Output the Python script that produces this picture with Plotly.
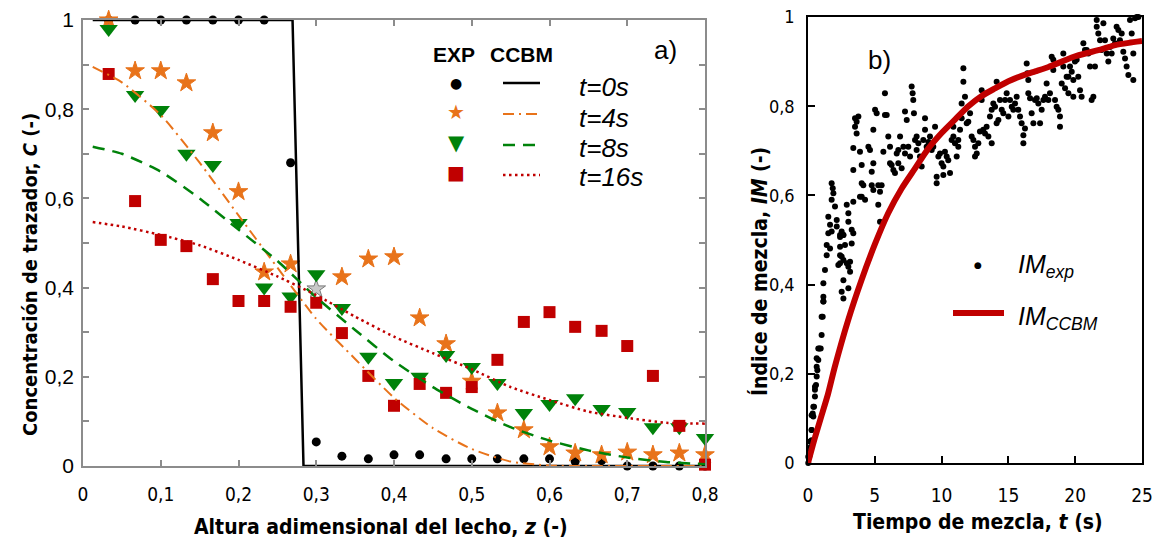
import plotly.graph_objects as go

# ---------------- data: panel a) ----------------
z_exp = [0.033, 0.067, 0.1, 0.133, 0.167, 0.2, 0.233, 0.267, 0.3, 0.333, 0.367, 0.4,
         0.433, 0.467, 0.5, 0.533, 0.567, 0.6, 0.633, 0.667, 0.7, 0.733, 0.767, 0.8]
c_exp_t0 = [1, 1, 1, 1, 1, 1, 1, 0.68, 0.054, 0.022, 0.016, 0.025,
            0.025, 0.016, 0.016, 0.016, 0.016, 0.016, 0.01, 0.012, 0, 0, 0, 0]
c_exp_t4 = [1.0, 0.886, 0.886, 0.859, 0.747, 0.615, 0.435, 0.453, 0.397, 0.424, 0.464, 0.469,
            0.332, 0.274, 0.19, 0.119, 0.081, 0.043, 0.029, 0.025, 0.031, 0.025, 0.029, 0.025]
c_exp_t8 = [0.98, 0.832, 0.798, 0.70, 0.675, 0.545, 0.40, 0.38, 0.43, 0.354, 0.245, 0.186,
            0.20, 0.249, 0.222, 0.186, 0.119, 0.139, 0.152, 0.128, 0.121, 0.087, 0.087, 0.063]
c_exp_t16 = [0.879, 0.594, 0.507, 0.493, 0.419, 0.370, 0.370, 0.357, 0.366, 0.298, 0.202, 0.135,
             0.184, 0.164, 0.177, 0.238, 0.323, 0.345, 0.312, 0.303, 0.269, 0.202, 0.090, 0.003]

z_step = [0.0125, 0.2695, 0.2836, 0.8]
c_step = [1, 1, 0, 0]
z_model = [0.0125, 0.05, 0.1, 0.15, 0.2, 0.25, 0.3, 0.35, 0.4, 0.45, 0.5, 0.55,
           0.6, 0.65, 0.7, 0.75, 0.8]
c_mod_t4 = [0.895, 0.86, 0.787, 0.68, 0.562, 0.445, 0.33, 0.24, 0.153, 0.085, 0.038, 0.01,
            0.001, 0, 0, 0, 0]
c_mod_t8 = [0.716, 0.70, 0.66, 0.60, 0.53, 0.46, 0.378, 0.305, 0.235, 0.177, 0.128, 0.087,
            0.057, 0.035, 0.019, 0.009, 0.004]
c_mod_t16 = [0.547, 0.537, 0.518, 0.495, 0.462, 0.425, 0.383, 0.335, 0.29, 0.253, 0.217, 0.177,
             0.148, 0.122, 0.108, 0.097, 0.095]

series_labels = ["t=0s", "t=4s", "t=8s", "t=16s"]

# ---------------- data: panel b) ----------------
t_model = [0, 0.5, 1, 1.5, 2, 3, 4, 5, 6, 7, 8, 9, 10, 11, 12, 13, 14, 15, 16, 17, 18,
           19, 20, 21, 22, 23, 24, 25]
im_model = [0, 0.055, 0.105, 0.155, 0.215, 0.32, 0.41, 0.49, 0.56, 0.615, 0.66, 0.705,
            0.74, 0.77, 0.8, 0.823, 0.84, 0.856, 0.868, 0.878, 0.888, 0.9, 0.912, 0.92,
            0.928, 0.937, 0.942, 0.946]

t_exp = [
    0.02, 0.1, 0.15, 0.2, 0.27, 0.27, 0.4, 0.35, 0.45, 0.52, 0.52, 0.6, 0.65, 0.7, 0.77,
    0.85, 0.95, 1.02, 1.1, 1.15, 1.4, 1.27, 1.15, 1.15, 1.15, 1.02, 0.77, 0.65, 0.65, 0.52,
    0.4, 0.27, 0.27, 0.15, 0.02, 2.4, 2.52, 2.65, 2.77, 2.4, 2.52, 2.65, 2.27, 2.4, 2.9,
    3.15, 3.02, 3.15, 2.65, 2.52, 2.65, 3.02, 3.27, 3.39, 1.52, 1.77, 1.4, 1.65,
    1.52, 1.65, 1.77, 1.85, 1.9, 1.77, 2.02, 2.15, 2.15, 2.4, 2.4, 2.65, 2.9, 3.02, 3.02,
    3.27, 3.39, 3.52, 3.64, 3.52, 3.77, 3.64, 3.39, 3.89, 3.39, 4.02, 4.02, 4.14, 4.02,
    4.27, 3.89, 4.52, 4.64, 4.77, 4.89, 4.77, 4.89, 5.02, 5.14, 4.89, 5.26, 5.39, 5.51,
    5.26, 5.39, 5.64, 5.76, 5.76, 5.89, 6.01, 6.14, 6.14, 6.26, 6.39, 6.51, 6.64, 6.76,
    6.76, 6.89, 7.01, 7.14, 7.26, 7.26, 7.39, 7.51, 7.64, 7.76, 7.83, 7.88, 7.93, 8.01,
    8.13, 8.13, 8.26, 8.38, 8.51, 8.63, 8.76, 8.76, 8.88, 9.01, 9.13, 9.26, 9.38, 9.51,
    9.63, 9.63, 9.76, 9.88, 10.0, 10.13, 10.13, 10.25, 10.38, 10.5, 10.63, 10.75, 10.88,
    10.88, 11.0, 11.13, 11.25, 11.25, 11.38, 11.5, 11.5, 11.63, 11.63, 11.75, 11.88, 12.0,
    12.13, 12.25, 12.38, 12.5, 12.5, 12.63, 12.75, 12.87, 13.0, 13.0, 13.12, 13.25, 13.37,
    13.5, 13.62, 13.75, 13.75, 13.87, 14.0, 14.12, 14.12, 14.25, 14.37, 14.5, 14.62, 14.75,
    14.87, 15.0, 15.12, 15.25, 15.37, 15.5, 15.62, 15.74, 15.87, 15.99, 16.12, 16.12, 16.24,
    16.37, 16.42, 16.49, 16.49, 16.62, 16.74, 16.87, 16.99, 17.12, 17.24, 17.37, 17.49,
    17.62, 17.74, 17.86, 17.99, 18.11, 18.24, 18.36, 18.36, 18.49, 18.61, 18.74, 18.86,
    18.86, 18.99, 19.11, 19.11, 19.24, 19.36, 19.49, 19.49, 19.61, 19.74, 19.86, 19.86,
    19.98, 20.11, 20.23, 20.36, 20.48, 20.61, 20.73, 20.86, 20.98, 21.11, 21.23, 21.36,
    21.48, 21.61, 21.61, 21.73, 21.86, 21.98, 22.11, 22.23, 22.36, 22.48, 22.6, 22.73,
    22.85, 22.98, 23.1, 23.23, 23.35, 23.48, 23.6, 23.73, 23.85, 23.98, 24.1, 24.23, 24.35,
    24.35, 24.48, 24.6, 24.73]
im_exp = [
    0.0, 0.015, 0.025, 0.036, 0.051, 0.074, 0.104, 0.111, 0.126, 0.149, 0.164, 0.175, 0.194,
    0.208, 0.231, 0.257, 0.257, 0.287, 0.328, 0.362, 0.466, 0.433, 0.403, 0.373, 0.362,
    0.328, 0.257, 0.235, 0.216, 0.171, 0.126, 0.107, 0.074, 0.048, 0.014, 0.507, 0.519,
    0.511, 0.489, 0.466, 0.463, 0.455, 0.444, 0.448, 0.448, 0.451, 0.44, 0.429, 0.41, 0.384,
    0.369, 0.392, 0.492, 0.515, 0.515, 0.519, 0.489, 0.481,
    0.552, 0.534, 0.627, 0.616, 0.605, 0.59, 0.575, 0.545, 0.53, 0.511, 0.485, 0.511, 0.579,
    0.56, 0.541, 0.523, 0.586, 0.773, 0.765, 0.754, 0.777, 0.739, 0.706, 0.698, 0.657,
    0.668, 0.627, 0.623, 0.597, 0.59, 0.597, 0.709, 0.702, 0.653, 0.672, 0.623, 0.612,
    0.792, 0.784, 0.747, 0.623, 0.608, 0.623, 0.579, 0.541, 0.698, 0.829, 0.78, 0.78,
    0.732, 0.709, 0.672, 0.668, 0.657, 0.65, 0.694, 0.702, 0.672, 0.732, 0.661, 0.709,
    0.694, 0.788, 0.769, 0.709, 0.687, 0.844, 0.829, 0.814, 0.784, 0.724, 0.732, 0.702,
    0.717, 0.687, 0.665, 0.724, 0.773, 0.747, 0.709, 0.72, 0.732, 0.702, 0.709, 0.754,
    0.642, 0.627, 0.687, 0.694, 0.672, 0.646, 0.665, 0.698, 0.687, 0.679, 0.65, 0.724,
    0.754, 0.732, 0.717, 0.687, 0.709, 0.724, 0.747, 0.773, 0.806, 0.885, 0.855, 0.821,
    0.762, 0.765, 0.784, 0.732, 0.724, 0.709, 0.687, 0.694, 0.717, 0.743, 0.836, 0.814,
    0.747, 0.739, 0.754, 0.732, 0.777, 0.717, 0.792, 0.806, 0.799, 0.855, 0.762, 0.769,
    0.814, 0.792, 0.784, 0.814, 0.829, 0.777, 0.814, 0.799, 0.792, 0.806, 0.821, 0.792,
    0.777, 0.762, 0.717, 0.735, 0.75, 0.896, 0.874, 0.859, 0.829, 0.818, 0.784, 0.762,
    0.814, 0.818, 0.806, 0.762, 0.792, 0.814, 0.821, 0.851, 0.814, 0.829, 0.911, 0.904,
    0.881, 0.814, 0.799, 0.792, 0.777, 0.754, 0.851, 0.918, 0.889, 0.84, 0.866, 0.866,
    0.829, 0.889, 0.877, 0.859, 0.821, 0.9, 0.904, 0.866, 0.836, 0.821, 0.941, 0.926,
    0.926, 0.918, 0.889, 0.814, 0.821, 0.889, 0.993, 0.978, 0.963, 0.948, 0.926, 0.986,
    0.948, 0.918, 0.9, 0.933, 0.918, 0.952, 0.941, 0.978, 0.971, 0.948, 0.963, 0.922,
    0.907, 0.889, 0.87, 0.993, 0.963, 0.918, 0.859, 0.997, 1.0, 1.0]

# ---------------- styling ----------------
W, H = 1160, 545
OFF = 8  # page body margin offset of the figure div
ORANGE = "#E8731A"
GREEN = "#00820A"
RED = "#C00000"
GRAY = "#8c8c8c"
NARROW = "Liberation Sans Narrow, DejaVu Sans Condensed, Arial Narrow, sans-serif"
ARIAL = "Liberation Sans, Arial, sans-serif"


def px(x):
    return (x - OFF) / W


def py(y):
    return 1 - (y - OFF) / H


fig = go.Figure()

# panel a) experimental markers
star_colors = [ORANGE] * len(c_exp_t4)
star_colors[8] = "#C8C8C8"
star_lines = [ORANGE] * len(c_exp_t4)
star_lines[8] = "#7a7a7a"

fig.add_trace(go.Scatter(x=z_exp, y=c_exp_t0, mode="markers", cliponaxis=False,
                         marker=dict(symbol="circle", size=9, color="black"),
                         xaxis="x", yaxis="y", showlegend=False))
fig.add_trace(go.Scatter(x=z_exp, y=c_exp_t4, mode="markers", cliponaxis=False,
                         marker=dict(symbol="star", size=14, color=star_colors,
                                     line=dict(color=star_lines, width=1)),
                         xaxis="x", yaxis="y", showlegend=False))
fig.add_trace(go.Scatter(x=z_exp, y=c_exp_t8, mode="markers", cliponaxis=False,
                         marker=dict(symbol="triangle-down", size=16, color=GREEN),
                         xaxis="x", yaxis="y", showlegend=False))
fig.add_trace(go.Scatter(x=z_exp, y=c_exp_t16, mode="markers", cliponaxis=False,
                         marker=dict(symbol="square", size=12, color=RED),
                         xaxis="x", yaxis="y", showlegend=False))

# panel a) model curves
fig.add_trace(go.Scatter(x=z_step, y=c_step, mode="lines", cliponaxis=False,
                         line=dict(color="black", width=2.5),
                         xaxis="x", yaxis="y", showlegend=False))
fig.add_trace(go.Scatter(x=z_model, y=c_mod_t4, mode="lines",
                         line=dict(color=ORANGE, width=2, dash="11px,5px,2px,5px",
                                   shape="spline", smoothing=0.6),
                         xaxis="x", yaxis="y", showlegend=False))
fig.add_trace(go.Scatter(x=z_model, y=c_mod_t8, mode="lines",
                         line=dict(color=GREEN, width=2.5, dash="12px,8px",
                                   shape="spline", smoothing=0.6),
                         xaxis="x", yaxis="y", showlegend=False))
fig.add_trace(go.Scatter(x=z_model, y=c_mod_t16, mode="lines",
                         line=dict(color=RED, width=2.5, dash="2.5px,3.5px",
                                   shape="spline", smoothing=0.6),
                         xaxis="x", yaxis="y", showlegend=False))

# panel b)
fig.add_trace(go.Scatter(x=t_exp, y=im_exp, mode="markers", cliponaxis=False,
                         marker=dict(size=6, color="black"),
                         xaxis="x2", yaxis="y2", showlegend=False))
fig.add_trace(go.Scatter(x=t_model, y=im_model, mode="lines", cliponaxis=False,
                         line=dict(color=RED, width=6, shape="spline", smoothing=0.6),
                         xaxis="x2", yaxis="y2", showlegend=False))

x_ticks_a = [0, 0.1, 0.2, 0.3, 0.4, 0.5, 0.6, 0.7, 0.8]
x_text_a = ["0", "0,1", "0,2", "0,3", "0,4", "0,5", "0,6", "0,7", "0,8"]
y_ticks_a = [0, 0.1, 0.2, 0.3, 0.4, 0.5, 0.6, 0.7, 0.8, 0.9, 1.0]
y_text_a = ["0", "", "0,2", "", "0,4", "", "0,6", "", "0,8", "", "1"]
x_ticks_b = [0, 5, 10, 15, 20, 25]
y_ticks_b = [0, 0.2, 0.4, 0.6, 0.8, 1.0]
y_text_b = ["0", "0,2", "0,4", "0,6", "0,8", "1"]

axis_a = dict(showgrid=False, zeroline=False, showline=True, linecolor=GRAY, linewidth=1.5,
              mirror="ticks", ticks="inside", ticklen=6, tickcolor=GRAY, tickwidth=1.5,
              automargin=False, ticklabeloverflow="allow")
axis_b = dict(showgrid=False, zeroline=False, showline=True, linecolor="black", linewidth=1.5,
              mirror=True, ticks="inside", ticklen=7, tickcolor="black", tickwidth=1.5,
              automargin=False, ticklabeloverflow="allow")

fig.update_layout(
    template="none",
    width=W, height=H, autosize=False,
    margin=dict(l=0, r=0, t=0, b=0),
    paper_bgcolor="white", plot_bgcolor="white",
    showlegend=False,
    xaxis=dict(domain=[px(83), px(705)], range=[0, 0.8], tickvals=x_ticks_a,
               ticktext=x_text_a, anchor="y", ticklabelstandoff=10,
               tickfont=dict(family=NARROW, size=19, color="black"), **axis_a),
    yaxis=dict(domain=[py(466), py(20)], range=[0, 1], tickvals=y_ticks_a,
               ticktext=y_text_a, anchor="x", ticklabelstandoff=3,
               tickfont=dict(family=ARIAL, size=21, color="black"), **axis_a),
    xaxis2=dict(domain=[px(808), px(1142)], range=[0, 25], tickvals=x_ticks_b,
                anchor="y2", ticklabelstandoff=14,
                tickfont=dict(family=NARROW, size=19, color="black"), **axis_b),
    yaxis2=dict(domain=[py(463), py(17)], range=[0, 1], tickvals=y_ticks_b,
                ticktext=y_text_b, anchor="x2", ticklabelstandoff=8,
                tickfont=dict(family=NARROW, size=18, color="black"), **axis_b),
)

ann = []
# axis titles
ann.append(dict(text="<b>Concentración de trazador, <i>C</i> (-)</b>", x=px(30), y=py(275),
                textangle=-90, font=dict(family=NARROW, size=20, color="black")))
ann.append(dict(text="<b>Altura adimensional del lecho, <i>z</i> (-)</b>", x=px(381), y=py(527),
                font=dict(family=NARROW, size=21, color="black")))
ann.append(dict(text="<b>Índice de mezcla, <i>IM</i> (-)</b>", x=px(759), y=py(272),
                textangle=-90, font=dict(family=NARROW, size=21, color="black")))
ann.append(dict(text="<b>Tiempo de mezcla, <i>t</i> (s)</b>", x=px(978), y=py(522),
                font=dict(family=NARROW, size=21, color="black")))
# panel labels
ann.append(dict(text="a)", x=px(665), y=py(50), font=dict(family=ARIAL, size=26, color="black")))
ann.append(dict(text="b)", x=px(880), y=py(60), font=dict(family=ARIAL, size=26, color="black")))

# legend of panel a)
ann.append(dict(text="<b>EXP</b>", x=px(454), y=py(54), font=dict(family=ARIAL, size=21, color="black")))
ann.append(dict(text="<b>CCBM</b>", x=px(521), y=py(54), font=dict(family=ARIAL, size=21, color="black")))
glyphs = [("●", "black", 14, 83), ("★", ORANGE, 20, 112), ("▼", GREEN, 21, 143), ("■", RED, 19, 172)]
for g, col, sz, yy in glyphs:
    ann.append(dict(text=g, x=px(456), y=py(yy), font=dict(family="DejaVu Sans", size=sz, color=col)))
text_y = [87, 118, 148, 177]
for lab, yy in zip(series_labels, text_y):
    ann.append(dict(text="<i>" + lab + "</i>", x=px(577), y=py(yy), xanchor="left",
                    font=dict(family=ARIAL, size=26, color="black")))

# legend of panel b)
ann.append(dict(text="●", x=px(978), y=py(265), font=dict(family="DejaVu Sans", size=9, color="black")))
ann.append(dict(text="<i>IM<sub>exp</sub></i>", x=px(1016), y=py(266), xanchor="left",
                font=dict(family=ARIAL, size=25, color="black")))
ann.append(dict(text="<i>IM<sub>CCBM</sub></i>", x=px(1016), y=py(318), xanchor="left",
                font=dict(family=ARIAL, size=25, color="black")))

for a in ann:
    a.setdefault("xref", "paper")
    a.setdefault("yref", "paper")
    a.setdefault("showarrow", False)
    a.setdefault("xanchor", "center")
    a.setdefault("yanchor", "middle")
fig.update_layout(annotations=ann)

shapes = []
line_styles = [("black", 2.5, "solid", 83), (ORANGE, 2, "11px,5px,2px,5px", 114),
               (GREEN, 2.5, "12px,8px", 145), (RED, 2.5, "2.5px,3.5px", 175)]
for col, wdt, dsh, yy in line_styles:
    shapes.append(dict(type="line", xref="paper", yref="paper", x0=px(503), x1=px(540),
                       y0=py(yy), y1=py(yy), line=dict(color=col, width=wdt, dash=dsh)))
shapes.append(dict(type="line", xref="paper", yref="paper", x0=px(953), x1=px(1004),
                   y0=py(313), y1=py(313), line=dict(color=RED, width=6)))
fig.update_layout(shapes=shapes)

fig.write_html("out.html")
